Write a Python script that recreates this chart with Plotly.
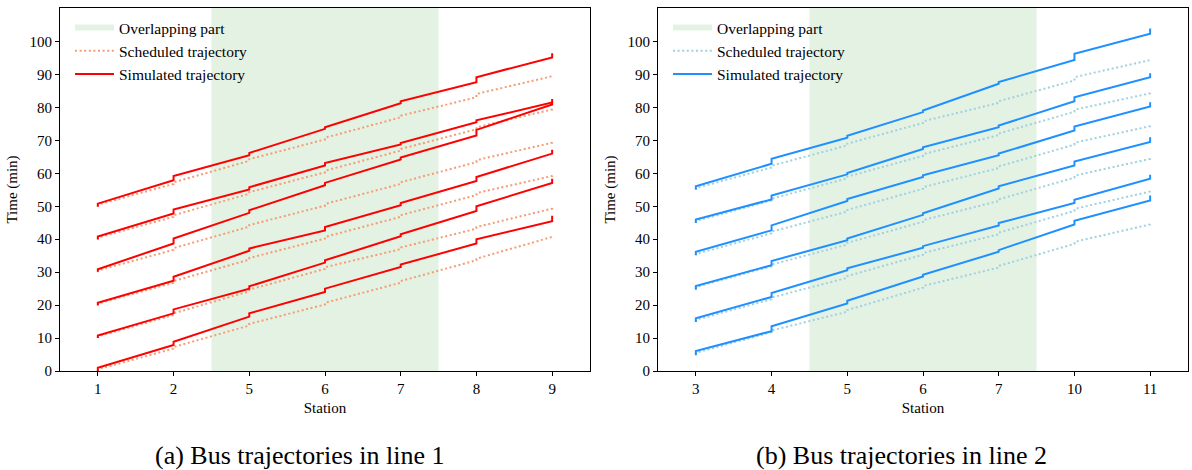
import plotly.graph_objects as go

# Station names along each line
stations_line1 = ["1", "2", "5", "6", "7", "8", "9"]
stations_line2 = ["3", "4", "5", "6", "7", "10", "11"]

# Simulated arrival / departure times (min), one row per bus, line 1
sim1_arr = [
    [0.0, 7.9, 16.5, 24.0, 31.6, 38.7, 45.5],
    [10.0, 17.5, 25.0, 32.9, 40.9, 48.6, 57.1],
    [19.9, 27.4, 36.5, 42.7, 50.3, 57.7, 66.0],
    [30.1, 38.7, 48.0, 56.4, 64.2, 71.5, 80.9],
    [39.9, 47.8, 55.1, 62.4, 68.8, 75.5, 81.5],
    [49.9, 57.9, 65.5, 73.5, 81.3, 87.7, 95.2],
]
sim1_dep = [
    [1.0, 8.9, 17.5, 25.0, 32.3, 40.0, 47.1],
    [10.8, 18.7, 25.7, 33.6, 41.5, 50.0, 58.4],
    [20.7, 28.6, 37.2, 43.7, 51.0, 58.9, 67.2],
    [30.9, 40.2, 48.8, 57.1, 64.8, 73.2, 81.5],
    [40.8, 49.0, 55.8, 63.1, 69.2, 76.1, 82.6],
    [50.8, 59.2, 66.2, 74.0, 81.9, 89.2, 96.5],
]

# Scheduled arrival / departure times (min), line 1
sch1_arr = [
    [0.0, 6.8, 13.8, 20.2, 26.8, 33.6, 40.7],
    [10.0, 17.0, 24.2, 31.0, 37.0, 43.2, 49.3],
    [20.0, 26.8, 33.8, 40.2, 46.8, 53.4, 59.2],
    [30.0, 36.8, 43.8, 50.2, 56.8, 63.4, 69.3],
    [40.0, 46.8, 53.8, 60.3, 66.9, 73.4, 79.4],
    [50.0, 56.8, 63.8, 70.3, 77.0, 83.1, 89.5],
]
sch1_dep = [
    [0.5, 7.3, 14.3, 20.7, 27.3, 34.1, 41.2],
    [10.5, 17.5, 24.7, 31.5, 37.5, 43.7, 49.8],
    [20.5, 27.3, 34.3, 40.7, 47.3, 54.0, 59.7],
    [30.5, 37.3, 44.3, 50.7, 57.3, 64.0, 69.8],
    [40.5, 47.3, 54.3, 60.8, 67.4, 74.0, 79.9],
    [50.5, 57.3, 64.3, 70.8, 77.5, 84.1, 90.0],
]

# Simulated arrival / departure times (min), line 2
sim2_arr = [
    [4.8, 12.1, 20.5, 28.7, 36.2, 44.5, 51.8],
    [14.9, 22.5, 30.6, 37.4, 44.2, 51.0, 58.4],
    [24.7, 32.1, 39.7, 47.4, 55.4, 62.4, 69.5],
    [35.2, 42.7, 51.6, 58.9, 65.5, 73.0, 80.3],
    [44.9, 52.1, 59.7, 67.4, 74.0, 81.9, 89.2],
    [55.1, 62.9, 70.8, 78.6, 87.2, 94.4, 102.4],
]
sim2_dep = [
    [6.1, 13.6, 21.3, 29.2, 36.7, 45.6, 53.3],
    [16.0, 23.7, 31.2, 37.9, 44.9, 52.0, 59.6],
    [25.8, 33.4, 40.2, 47.9, 56.1, 63.6, 71.0],
    [36.2, 44.2, 52.2, 59.4, 66.0, 74.2, 81.6],
    [46.0, 53.3, 60.1, 67.9, 74.5, 83.1, 90.4],
    [56.1, 64.4, 71.4, 79.1, 87.7, 96.3, 104.0],
]

# Scheduled arrival / departure times (min), line 2
sch2_arr = [
    [5.0, 11.8, 18.0, 25.3, 31.4, 38.6, 44.5],
    [15.0, 21.8, 28.3, 35.3, 41.5, 48.6, 54.5],
    [25.0, 31.8, 38.4, 45.3, 51.6, 58.7, 64.4],
    [35.0, 41.8, 48.4, 55.3, 61.6, 68.7, 74.3],
    [45.0, 51.8, 58.5, 65.3, 71.6, 78.7, 84.3],
    [55.0, 61.8, 68.5, 75.3, 81.4, 88.2, 94.4],
]
sch2_dep = [
    [5.5, 12.3, 18.5, 25.8, 31.9, 39.2, 45.0],
    [15.5, 22.3, 28.8, 35.8, 42.0, 49.2, 55.0],
    [25.5, 32.3, 38.9, 45.8, 52.1, 59.3, 64.9],
    [35.5, 42.3, 48.9, 55.8, 62.1, 69.3, 74.8],
    [45.5, 52.3, 59.0, 65.8, 72.1, 79.3, 84.8],
    [55.5, 62.3, 69.0, 75.8, 81.9, 89.2, 94.9],
]

# Index range of the stations shared by both lines (5, 6, 7)
overlap_span = [1.5, 4.5]
y_max = 110.2

FONT = "Liberation Serif, Times New Roman, DejaVu Serif, serif"
SHADE = "rgba(0,128,0,0.105)"


def path(arr, dep):
    """Time-space path: vertical dwell at each station, sloped run between."""
    xs, ys = [], []
    for i, (a, d) in enumerate(zip(arr, dep)):
        xs += [i, i]
        ys += [a, d]
    return xs, ys


fig = go.Figure()

panels = [
    dict(xa="x", ya="y", legend="legend", arr_sim=sim1_arr, dep_sim=sim1_dep,
         arr_sch=sch1_arr, dep_sch=sch1_dep,
         c_sim="#ff0000", c_sch="#f59c74"),
    dict(xa="x2", ya="y2", legend="legend2", arr_sim=sim2_arr, dep_sim=sim2_dep,
         arr_sch=sch2_arr, dep_sch=sch2_dep,
         c_sim="#1e90ff", c_sch="#9fd1e0"),
]

for p in panels:
    # shaded overlapping section
    fig.add_trace(go.Scatter(
        x=[overlap_span[0], overlap_span[1], overlap_span[1], overlap_span[0], overlap_span[0]],
        y=[0, 0, y_max, y_max, 0],
        fill="toself", fillcolor=SHADE, mode="none",
        name="Overlapping part", xaxis=p["xa"], yaxis=p["ya"],
        legend=p["legend"], hoverinfo="skip",
    ))
    for k, (a, d) in enumerate(zip(p["arr_sch"], p["dep_sch"])):
        xs, ys = path(a, d)
        fig.add_trace(go.Scatter(
            x=xs, y=ys, mode="lines",
            line=dict(color=p["c_sch"], width=2, dash="2px,2.6px"),
            name="Scheduled trajectory", showlegend=(k == 0),
            legendgroup="sch", xaxis=p["xa"], yaxis=p["ya"], legend=p["legend"],
        ))
    for k, (a, d) in enumerate(zip(p["arr_sim"], p["dep_sim"])):
        xs, ys = path(a, d)
        fig.add_trace(go.Scatter(
            x=xs, y=ys, mode="lines",
            line=dict(color=p["c_sim"], width=2),
            name="Simulated trajectory", showlegend=(k == 0),
            legendgroup="sim", xaxis=p["xa"], yaxis=p["ya"], legend=p["legend"],
        ))

W, H = 1192, 470
top_px, bot_px = 8, 371
ydom = [(H - bot_px) / H, (H - top_px) / H]

axis_common = dict(
    showline=True, linecolor="black", linewidth=1, mirror=True,
    ticks="outside", ticklen=4, tickwidth=1, tickcolor="black",
    showgrid=False, zeroline=False, automargin=False,
    tickfont=dict(family=FONT, size=15, color="black"),
)

xcommon = dict(axis_common, range=[-0.5, 6.5], tickvals=list(range(7)),
               title=dict(text="Station", font=dict(family=FONT, size=15, color="black"), standoff=6))
ycommon = dict(axis_common, range=[0, y_max], tickvals=list(range(0, 101, 10)),
               title=dict(text="Time (min)", font=dict(family=FONT, size=15, color="black"), standoff=8))

legend_common = dict(
    bgcolor="rgba(0,0,0,0)", borderwidth=0,
    font=dict(family=FONT, size=15.5, color="black"),
    xanchor="left", yanchor="top", tracegroupgap=0, itemwidth=39,
)

fig.update_layout(
    width=W, height=H,
    margin=dict(l=0, r=0, t=0, b=0, pad=0, autoexpand=False),
    plot_bgcolor="white", paper_bgcolor="white",
    xaxis=dict(xcommon, domain=[60 / W, 590 / W], anchor="y",
               ticktext=stations_line1),
    yaxis=dict(ycommon, domain=ydom, anchor="x"),
    xaxis2=dict(xcommon, domain=[658 / W, 1188 / W], anchor="y2",
                ticktext=stations_line2),
    yaxis2=dict(ycommon, domain=ydom, anchor="x2"),
    legend=dict(legend_common, x=70 / W, y=(H - 11) / H),
    legend2=dict(legend_common, x=668 / W, y=(H - 11) / H),
    annotations=[
        dict(text="(a) Bus trajectories in line 1", x=300 / W, y=(H - 455) / H,
             xref="paper", yref="paper", showarrow=False,
             font=dict(family=FONT, size=26, color="black"),
             xanchor="center", yanchor="middle"),
        dict(text="(b) Bus trajectories in line 2", x=901 / W, y=(H - 455) / H,
             xref="paper", yref="paper", showarrow=False,
             font=dict(family=FONT, size=26, color="black"),
             xanchor="center", yanchor="middle"),
    ],
)

fig.write_html("out.html")
